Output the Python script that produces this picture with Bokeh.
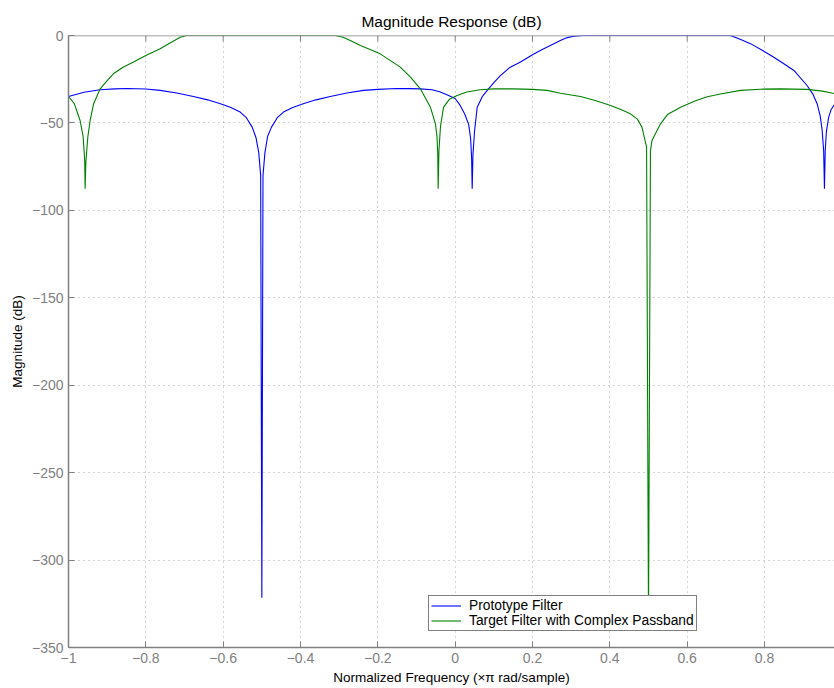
from bokeh.plotting import figure
from bokeh.models import Range1d, FixedTicker, Legend, LegendItem, Span
from bokeh.embed import file_html
from bokeh.resources import INLINE

# ---- data ----
x_ticks = [-1, -0.8, -0.6, -0.4, -0.2, 0, 0.2, 0.4, 0.6, 0.8]
x_tick_labels = ["\u22121", "\u22120.8", "\u22120.6", "\u22120.4", "\u22120.2", "0", "0.2", "0.4", "0.6", "0.8"]
y_ticks = [-350, -300, -250, -200, -150, -100, -50, 0]
y_tick_labels = ["\u2212350", "\u2212300", "\u2212250", "\u2212200", "\u2212150", "\u2212100", "\u221250", "0"]

proto_freq = [-1.0, -0.96, -0.918, -0.88, -0.849, -0.80, -0.763, -0.72, -0.677, -0.64,
              -0.607, -0.58, -0.556, -0.54, -0.525, -0.515, -0.508, -0.503, -0.5,
              -0.497, -0.492, -0.485, -0.475, -0.46, -0.444, -0.42, -0.393, -0.36,
              -0.323, -0.28, -0.237, -0.2, -0.151, -0.12, -0.09, -0.06, -0.04, -0.02,
              0.0, 0.013, 0.025, 0.035, 0.04, 0.0425, 0.044, 0.046, 0.05, 0.057, 0.07,
              0.083, 0.1, 0.117, 0.14, 0.169, 0.2, 0.22, 0.25, 0.272, 0.29, 0.307, 0.33,
              0.5, 0.712, 0.74, 0.765, 0.795, 0.824, 0.85, 0.876, 0.91, 0.925, 0.936,
              0.944, 0.949, 0.953, 0.955, 0.957, 0.96, 0.966, 0.972, 0.981]
proto_db = [-34.9, -32.5, -31.0, -30.5, -30.3, -30.6, -31.4, -32.9, -34.9, -36.8,
            -39.0, -41.2, -43.8, -47.0, -52.4, -58.5, -67.0, -80.0, -321.5,
            -80.0, -67.0, -57.6, -52.4, -47.0, -43.8, -41.2, -39.0, -36.8,
            -34.9, -32.9, -31.4, -30.8, -30.3, -30.4, -30.5, -31.0, -32.2, -34.0,
            -36.0, -40.0, -45.0, -51.0, -59.0, -70.0, -87.6, -68.0, -55.0, -41.0, -35.0,
            -31.4, -27.0, -22.9, -18.5, -15.2, -11.0, -8.6, -5.3, -2.9, -1.2, -0.4, 0.0,
            0.0, 0.0, -2.4, -4.8, -8.6, -12.4, -16.2, -20.0, -28.6, -33.5, -39.0,
            -46.0, -54.0, -66.0, -87.6, -66.0, -55.0, -46.7, -42.5, -39.5]

target_freq = [-1.0, -0.985, -0.97, -0.962, -0.958, -0.957, -0.955, -0.95, -0.944, -0.935,
               -0.918, -0.9, -0.884, -0.86, -0.832, -0.80, -0.763, -0.735, -0.711, -0.695, -0.5,
               -0.31, -0.29, -0.27, -0.245, -0.194, -0.142, -0.115, -0.09, -0.064,
               -0.051, -0.047, -0.045, -0.044, -0.042, -0.038, -0.030, -0.015, 0.005,
               0.03, 0.065, 0.1, 0.151, 0.2, 0.238, 0.272, 0.324, 0.36, 0.402, 0.43,
               0.453, 0.472, 0.483, 0.495, 0.5, 0.505, 0.509, 0.531, 0.55, 0.583, 0.62,
               0.652, 0.686, 0.738, 0.79, 0.841, 0.91, 0.95, 0.981]
target_db = [-34.9, -39.0, -48.6, -58.0, -72.0, -87.6, -72.0, -58.0, -48.6, -39.0,
             -30.5, -25.8, -21.9, -18.3, -15.2, -11.5, -7.6, -4.0, -1.0, 0.0, 0.0,
             0.0, -1.0, -3.0, -5.7, -10.5, -18.1, -24.0, -30.5, -41.0,
             -50.5, -58.0, -68.0, -87.6, -66.0, -52.0, -41.0, -36.5, -34.3,
             -32.3, -31.0, -30.5, -30.5, -30.8, -31.4, -33.0, -34.9, -37.0, -40.0, -42.5,
             -44.8, -48.0, -52.4, -63.8, -335.0, -66.0, -60.0, -50.5, -45.0, -41.0, -37.5,
             -35.0, -33.5, -31.4, -30.7, -30.5, -30.8, -31.8, -33.2]

series_names = ["Prototype Filter", "Target Filter with Complex Passband"]
series_colors = ["#0000ff", "#008000"]

FONT = "Liberation Sans"
GRAY = "#808080"
TICK_LEN_DB = 3.4   # inward tick length on the top edge, in y units (~6 px)

p = figure(width=834, height=688, output_backend="svg", toolbar_location=None,
           x_range=Range1d(-1, 0.981), y_range=Range1d(-350, 0),
           min_border_left=68, min_border_right=0, min_border_top=35, min_border_bottom=41,
           x_axis_label="Normalized Frequency (\u00d7\u03c0 rad/sample)",
           y_axis_label="Magnitude (dB)")

p.title.text = "Magnitude Response (dB)"
p.title.align = "center"
p.title.text_font = FONT
p.title.text_font_size = "15.5px"
p.title.text_font_style = "normal"
p.title.text_color = "#000000"
p.title.standoff = 11

p.outline_line_color = None
p.background_fill_color = "white"
p.border_fill_color = "white"

for ax, ticks, labels in ((p.xaxis[0], x_ticks, x_tick_labels), (p.yaxis[0], y_ticks, y_tick_labels)):
    ax.ticker = FixedTicker(ticks=ticks)
    ax.major_label_overrides = dict(zip(ticks, labels))
    ax.major_label_text_font = FONT
    ax.major_label_text_font_size = "14px"
    ax.major_label_text_color = GRAY
    ax.axis_line_color = GRAY
    ax.axis_line_width = 1.5
    ax.major_tick_line_color = GRAY
    ax.major_tick_in = 6
    ax.major_tick_out = 0
    ax.minor_tick_line_color = None
    ax.axis_label_text_font = FONT
    ax.axis_label_text_font_size = "13.5px"
    ax.axis_label_text_font_style = "normal"
    ax.axis_label_text_color = "#000000"
    ax.major_label_standoff = 5
    ax.axis_label_standoff = 4

for g in (p.xgrid[0], p.ygrid[0]):
    g.grid_line_color = "#aaaaaa"
    g.grid_line_dash = "1 4"
    g.grid_line_width = 1

# top edge of the axes box with inward ticks
p.add_layout(Span(location=0, dimension="width", line_color=GRAY, line_width=1.5))
p.segment(x0=x_ticks, y0=[0] * len(x_ticks), x1=x_ticks, y1=[-TICK_LEN_DB] * len(x_ticks),
          line_color=GRAY, line_width=1)

r1 = p.line(proto_freq, proto_db, line_color=series_colors[0], line_width=1.1)
r2 = p.line(target_freq, target_db, line_color=series_colors[1], line_width=1.1)

legend = Legend(items=[LegendItem(label=series_names[0], renderers=[r1]),
                       LegendItem(label=series_names[1], renderers=[r2])],
                location=(360, 16))
legend.label_text_font = FONT
legend.label_text_font_size = "13.8px"
legend.label_text_color = "#000000"
legend.label_height = 13
legend.glyph_height = 13
legend.glyph_width = 30
legend.label_standoff = 8
legend.spacing = 0
legend.padding = 2
legend.margin = 0
legend.border_line_color = "#000000"
legend.border_line_width = 1.5
legend.background_fill_color = "white"
legend.background_fill_alpha = 1.0
p.add_layout(legend, "center")

open("out.html", "w").write(file_html(p, INLINE))
